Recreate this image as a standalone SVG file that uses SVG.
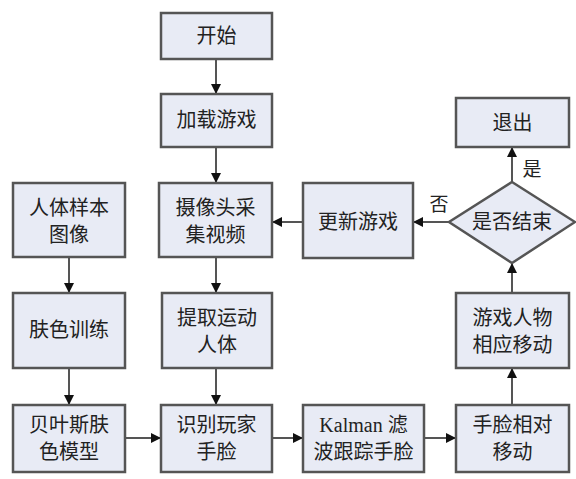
<svg xmlns="http://www.w3.org/2000/svg" width="576" height="479" viewBox="0 0 576 479">
<defs>
<marker id="ah" viewBox="0 0 10 10" refX="10" refY="5" markerWidth="5" markerHeight="5" orient="auto" markerUnits="strokeWidth">
<path d="M0,0 L10,5 L0,10 z" fill="#111"/>
</marker>
<style>
.box{fill:#e8ebf5;stroke:#555;stroke-width:2.5}
.t{font-family:"Liberation Serif","Noto Sans CJK SC",serif;font-size:20px;fill:#222;text-anchor:middle}
.lbl{font-family:"Liberation Serif","Noto Sans CJK SC",serif;font-size:19px;fill:#222;text-anchor:middle}
.c{stroke:#555;stroke-width:2;fill:none;marker-end:url(#ah)}
</style>
</defs>
<rect width="576" height="479" fill="#fff"/>
<g id="connectors">
<line class="c" x1="216" y1="59" x2="216" y2="94"/>
<line class="c" x1="216" y1="147" x2="216" y2="183"/>
<line class="c" x1="216" y1="257" x2="216" y2="293"/>
<line class="c" x1="216" y1="368" x2="216" y2="405"/>
<line class="c" x1="69" y1="257" x2="69" y2="293"/>
<line class="c" x1="69" y1="368" x2="69" y2="405"/>
<line class="c" x1="125" y1="438" x2="161" y2="438"/>
<line class="c" x1="272" y1="438" x2="303" y2="438"/>
<line class="c" x1="424" y1="438" x2="456" y2="438"/>
<line class="c" x1="512" y1="405" x2="512" y2="368"/>
<line class="c" x1="512" y1="293" x2="512" y2="263"/>
<line class="c" x1="512" y1="182" x2="512" y2="147"/>
<line class="c" x1="449" y1="222" x2="413" y2="222"/>
<line class="c" x1="303" y1="222" x2="272" y2="222"/>
<text class="lbl" x="532" y="176">是</text>
<text class="lbl" x="439" y="211">否</text>
</g>
<g id="start"><rect class="box" x="161" y="13" width="111" height="46"/><text class="t" x="216.5" y="43">开始</text></g>
<g id="load"><rect class="box" x="161" y="94" width="111" height="53"/><text class="t" x="216.5" y="127">加载游戏</text></g>
<g id="camera"><rect class="box" x="159" y="183" width="113" height="74"/><text class="t" x="215.5" y="215">摄像头采</text><text class="t" x="215.5" y="242">集视频</text></g>
<g id="sample"><rect class="box" x="13" y="183" width="112" height="74"/><text class="t" x="69" y="215">人体样本</text><text class="t" x="69" y="242">图像</text></g>
<g id="skin"><rect class="box" x="13" y="293" width="112" height="75"/><text class="t" x="69" y="337">肤色训练</text></g>
<g id="bayes"><rect class="box" x="13" y="405" width="112" height="67"/><text class="t" x="69" y="432">贝叶斯肤</text><text class="t" x="69" y="459">色模型</text></g>
<g id="extract"><rect class="box" x="162" y="293" width="110" height="75"/><text class="t" x="217" y="325">提取运动</text><text class="t" x="217" y="352">人体</text></g>
<g id="identify"><rect class="box" x="161" y="405" width="111" height="67"/><text class="t" x="216.5" y="432">识别玩家</text><text class="t" x="216.5" y="459">手脸</text></g>
<g id="kalman"><rect class="box" x="303" y="405" width="121" height="67"/><text class="t" x="363.5" y="432">Kalman 滤</text><text class="t" x="363.5" y="459">波跟踪手脸</text></g>
<g id="relmove"><rect class="box" x="456" y="405" width="113" height="67"/><text class="t" x="512.5" y="432">手脸相对</text><text class="t" x="512.5" y="459">移动</text></g>
<g id="charmove"><rect class="box" x="456" y="293" width="113" height="75"/><text class="t" x="512.5" y="325">游戏人物</text><text class="t" x="512.5" y="352">相应移动</text></g>
<g id="update"><rect class="box" x="303" y="183" width="110" height="75"/><text class="t" x="358" y="229">更新游戏</text></g>
<g id="exit"><rect class="box" x="456" y="98" width="113" height="49"/><text class="t" x="512.5" y="130">退出</text></g>
<g id="decision"><polygon class="box" points="512,182 575,222 512,263 449,222"/><text class="t" x="512" y="229">是否结束</text></g>
</svg>
